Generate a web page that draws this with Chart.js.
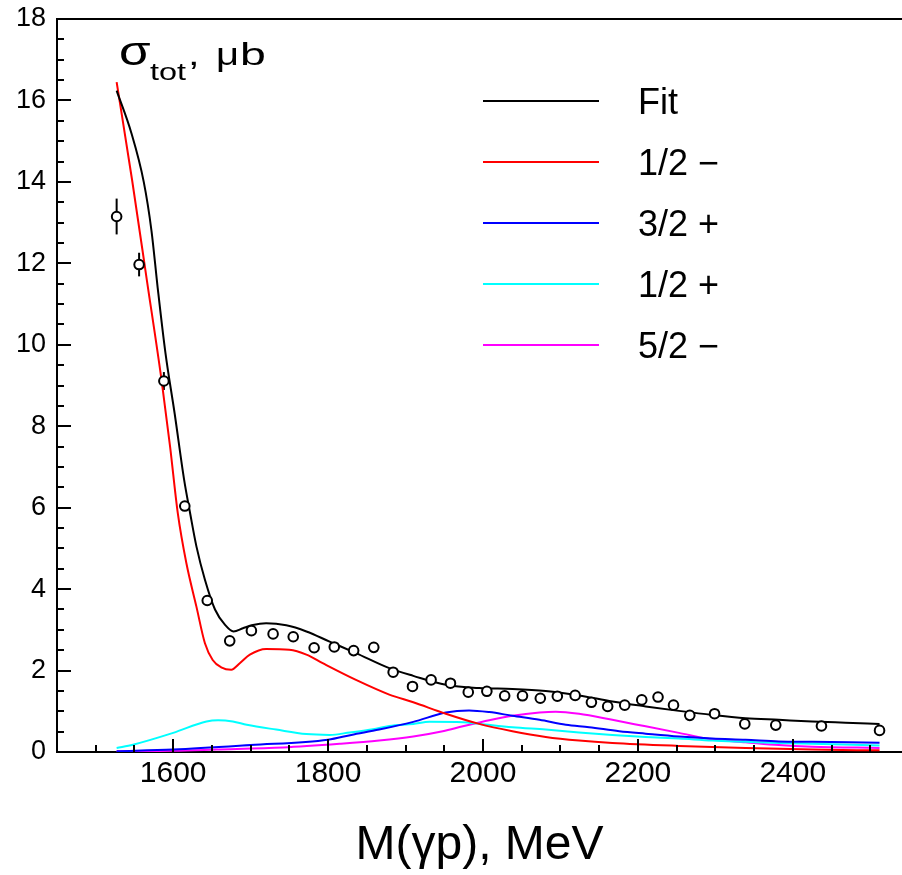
<!DOCTYPE html>
<html><head><meta charset="utf-8">
<script src="https://cdn.jsdelivr.net/npm/chart.js@4"></script>
<style>html,body{margin:0;padding:0;background:#fff;overflow:hidden}#wrap{width:902px;height:875px;position:relative}</style>
</head><body><div id="wrap"><canvas id="c"></canvas></div>
<script>
const FONT = '"Liberation Sans", Arial, Helvetica, sans-serif';

// Measured total cross section (open circles)
const dataMass  = [1527,1556,1588,1615,1644,1673,1701,1729,1755,1782,1808,1833,1859,1884,1909,1933,1958,1981,2005,2028,2051,2074,2096,2119,2140,2161,2183,2205,2226,2246,2267,2299,2338,2378,2437,2512];
const dataSigma = [13.15,11.97,9.11,6.04,3.72,2.73,2.98,2.90,2.83,2.56,2.58,2.49,2.57,1.96,1.61,1.77,1.69,1.47,1.49,1.38,1.38,1.32,1.37,1.39,1.22,1.12,1.15,1.28,1.35,1.15,0.90,0.94,0.69,0.66,0.64,0.53];
const dataError = [0.44,0.29,0.22,0.10,0.08,0.08,0.08,0.08,0.08,0.08,0.08,0.08,0.08,0.08,0.08,0.08,0.08,0.08,0.08,0.08,0.08,0.08,0.08,0.08,0.08,0.08,0.08,0.08,0.08,0.08,0.08,0.08,0.08,0.08,0.08,0.08];

// Fit
const fitMass   = [1527,1546,1562,1572,1580,1590,1602,1614,1622,1630,1641,1654,1667,1678,1690,1703,1720,1746,1772,1802,1836,1879,1910,1952,1995,2038,2081,2124,2167,2210,2253,2296,2339,2382,2425,2468,2512];
const fitValues = [16.24,15.2,14.0,12.8,11.4,9.8,8.3,6.7,5.85,5.05,4.23,3.5,3.12,2.96,3.04,3.12,3.16,3.11,2.96,2.71,2.43,2.06,1.87,1.65,1.57,1.55,1.50,1.39,1.24,1.12,1.01,0.91,0.83,0.79,0.75,0.72,0.69];
// 1/2 -
const s12mMass   = [1527,1547,1566,1585,1596,1606,1617,1630,1641,1651,1662,1675,1686,1699,1720,1750,1772,1793,1836,1879,1910,1952,1995,2038,2081,2124,2167,2253,2339,2425,2512];
const s12mValues = [16.45,14.04,11.59,9.13,7.5,5.86,4.64,3.57,2.67,2.26,2.08,2.02,2.18,2.39,2.53,2.51,2.39,2.18,1.77,1.41,1.22,0.94,0.69,0.51,0.37,0.28,0.22,0.15,0.10,0.06,0.04];
// 3/2 +
const s32pMass   = [1527,1600,1700,1800,1830,1866,1910,1952,1982,2008,2038,2073,2107,2137,2176,2210,2253,2296,2339,2382,2425,2512];
const s32pValues = [0.02,0.06,0.17,0.30,0.42,0.55,0.74,0.97,1.02,0.98,0.89,0.79,0.67,0.61,0.51,0.45,0.38,0.33,0.30,0.26,0.25,0.23];
// 1/2 +
const s12pMass   = [1527,1548,1600,1643,1658,1677,1695,1733,1772,1802,1828,1858,1879,1910,1931,1974,1996,2038,2081,2124,2167,2210,2253,2296,2339,2382,2425,2512];
const s12pValues = [0.10,0.18,0.47,0.75,0.78,0.75,0.67,0.55,0.44,0.42,0.48,0.56,0.64,0.69,0.74,0.73,0.69,0.61,0.55,0.48,0.42,0.37,0.33,0.28,0.25,0.22,0.20,0.16];
// 5/2 -
const s52mMass   = [1527,1600,1656,1742,1815,1866,1910,1948,1974,2008,2038,2073,2094,2124,2167,2210,2253,2296,2339,2382,2425,2512];
const s52mValues = [0.02,0.03,0.06,0.11,0.20,0.28,0.38,0.51,0.63,0.78,0.89,0.97,0.99,0.94,0.79,0.63,0.47,0.31,0.24,0.17,0.13,0.10];

const seriesLabels = ['Fit', '1/2 \u2212', '3/2 +', '1/2 +', '5/2 \u2212'];
const seriesColors = ['#000000', '#ff0000', '#0000ff', '#00ffff', '#ff00ff'];
const seriesMass   = [fitMass, s12mMass, s32pMass, s12pMass, s52mMass];
const seriesValues = [fitValues, s12mValues, s32pValues, s12pValues, s52mValues];

const xTickValues = [1600, 1800, 2000, 2200, 2400];
const yTickValues = [0, 2, 4, 6, 8, 10, 12, 14, 16, 18];

const toXY = (xs, ys) => xs.map((x, i) => ({x: x, y: ys[i]}));

const errorBars = {
  id: 'errorBars',
  beforeDatasetsDraw(chart) {
    const {ctx, scales: {x, y}} = chart;
    ctx.save();
    ctx.strokeStyle = '#000';
    ctx.lineWidth = 2;
    dataMass.forEach((m, i) => {
      const px = x.getPixelForValue(m);
      ctx.beginPath();
      ctx.moveTo(px, y.getPixelForValue(dataSigma[i] - dataError[i]));
      ctx.lineTo(px, y.getPixelForValue(dataSigma[i] + dataError[i]));
      ctx.stroke();
    });
    ctx.restore();
  }
};

const frameTicks = {
  id: 'frameTicks',
  afterDatasetsDraw(chart) {
    const {ctx, chartArea: a, scales: {x, y}} = chart;
    ctx.save();
    ctx.strokeStyle = '#000';
    ctx.lineWidth = 2;
    ctx.beginPath();
    ctx.moveTo(a.left - 1, a.top);
    ctx.lineTo(a.right, a.top);
    ctx.stroke();
    for (let v = 1500; v <= 2500; v += 50) {
      const px = Math.round(x.getPixelForValue(v));
      const len = (v % 200 === 0) ? 13 : 7;
      ctx.beginPath();
      ctx.moveTo(px, a.bottom);
      ctx.lineTo(px, a.bottom - len);
      ctx.stroke();
    }
    for (let v = 0.5; v <= 18; v += 0.5) {
      const py = Math.round(y.getPixelForValue(v));
      const len = (v % 2 === 0) ? 14 : 7;
      ctx.beginPath();
      ctx.moveTo(a.left, py);
      ctx.lineTo(a.left + len, py);
      ctx.stroke();
    }
    ctx.restore();
  }
};

function stretchedText(ctx, text, x, y, size, sx) {
  ctx.save();
  ctx.translate(x, y);
  ctx.scale(sx, 1);
  ctx.font = size + 'px ' + FONT;
  ctx.fillText(text, 0, 0);
  ctx.restore();
}

const legendAndTitle = {
  id: 'legendAndTitle',
  afterDraw(chart) {
    const {ctx} = chart;
    ctx.save();
    ctx.fillStyle = '#000';
    ctx.textBaseline = 'alphabetic';
    ctx.textAlign = 'left';
    // y title: sigma_tot, mu b
    stretchedText(ctx, '\u03c3', 119, 65, 41, 1.25);
    stretchedText(ctx, 'tot', 150, 80, 24, 1.35);
    stretchedText(ctx, ',', 188, 65, 32, 1.3);
    stretchedText(ctx, '\u03bc', 216, 65, 32, 1.25);
    stretchedText(ctx, 'b', 240, 65, 32, 1.45);
    // legend
    ctx.font = '36px ' + FONT;
    seriesLabels.forEach((lab, i) => {
      const ly = 101 + i * 61;
      ctx.strokeStyle = seriesColors[i];
      ctx.lineWidth = 2;
      ctx.beginPath();
      ctx.moveTo(483, ly);
      ctx.lineTo(599, ly);
      ctx.stroke();
      ctx.fillText(lab, 638, ly + 13);
    });
    ctx.restore();
  }
};

const datasets = [{
  label: 'data',
  data: toXY(dataMass, dataSigma),
  showLine: false,
  pointRadius: 4.8,
  pointHoverRadius: 4.8,
  pointBorderWidth: 2,
  pointBorderColor: '#000',
  pointBackgroundColor: '#fff'
}];
seriesLabels.forEach((lab, i) => {
  datasets.push({
    label: lab,
    data: toXY(seriesMass[i], seriesValues[i]),
    showLine: true,
    borderColor: seriesColors[i],
    borderWidth: 2,
    pointRadius: 0,
    pointHoverRadius: 0,
    cubicInterpolationMode: 'monotone',
    fill: false
  });
});

new Chart(document.getElementById('c'), {
  type: 'scatter',
  data: {datasets: datasets},
  options: {
    responsive: true,
    maintainAspectRatio: false,
    animation: false,
    events: [],
    layout: {padding: {top: 19, right: 0, left: 0, bottom: 0}, autoPadding: false},
    plugins: {legend: {display: false}, tooltip: {enabled: false}},
    scales: {
      x: {
        type: 'linear', min: 1450, max: 2541,
        afterBuildTicks: s => { s.ticks = xTickValues.map(v => ({value: v})); },
        afterFit: s => { s.height = 123; s.paddingLeft = 0; s.paddingRight = 0; },
        grid: {display: false, drawTicks: false},
        border: {display: true, color: '#000', width: 2},
        ticks: {font: {family: FONT, size: 30}, color: '#000', padding: 4, maxRotation: 0, autoSkip: false,
                callback: v => String(v)},
        title: {display: true, text: 'M(\u03b3p), MeV', font: {family: FONT, size: 48}, color: '#000', padding: {top: 0, bottom: 0}}
      },
      y: {
        type: 'linear', min: 0, max: 18,
        afterBuildTicks: s => { s.ticks = yTickValues.map(v => ({value: v})); },
        afterFit: s => { s.width = 57; s.paddingTop = 0; s.paddingBottom = 0; },
        grid: {display: false, drawTicks: false},
        border: {display: true, color: '#000', width: 2},
        ticks: {font: {family: FONT, size: 27}, color: '#000', padding: 11, callback: v => String(v)}
      }
    }
  },
  plugins: [errorBars, frameTicks, legendAndTitle]
});
</script>
</body></html>
